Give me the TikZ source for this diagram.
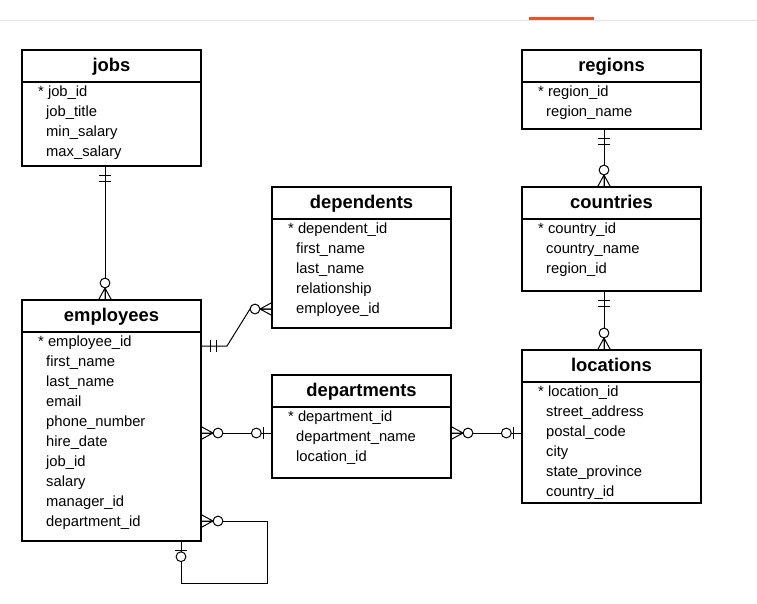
\documentclass[tikz,border=0pt]{standalone}
\usepackage{fontspec}
\setmainfont{Liberation Sans}
\usetikzlibrary{calc}
\tikzset{
  tbl/.style={draw, line width=1.1pt, minimum width=179pt, inner sep=0pt, outer sep=0pt},
  hdr/.style={font=\fontsize{18.4}{21}\selectfont\bfseries, inner sep=0pt, anchor=base},
  rowtxt/.style={font=\fontsize{14.75}{17}\selectfont, inner sep=0pt, anchor=base west},
  conn/.style={line width=1pt},
  mkline/.style={line width=1pt},
  ring/.style={line width=1pt, fill=white},
}
% table: name, left, top, height, title, key row, other rows
\newcommand\ertable[7]{%
  \node[tbl, minimum height=#4pt, anchor=north west] (#1) at (#2,#3) {};
  \draw[line width=1.1pt] ($(#1.north west)+(0,32)$) -- ($(#1.north east)+(0,32)$);
  \node[hdr] (#1-title) at ($(#1.north)+(0,21)$) {#5};
  \node[rowtxt] (#1-r1) at ($(#1.north west)+(16,46)$) {* #6};
  \foreach [count=\i from 2] \t in {#7}
    \node[rowtxt] (#1-r\i) at ($(#1.north west)+(24,26+20*\i)$) {\t};
}
% markers: point, angle pointing away from the table
\newcommand\mkone[2]{%
  \begin{scope}[shift={(#1)}, rotate=#2]
    \draw[mkline] (9,-6) -- (9,6) (15,-6) -- (15,6);
  \end{scope}}
\newcommand\mkzeromany[2]{%
  \begin{scope}[shift={(#1)}, rotate=#2]
    \draw[mkline] (0,-6.5) -- (12,0) -- (0,6.5) (0,0) -- (12,0);
    \draw[ring] (17,0) circle (4.9pt);
  \end{scope}}
\newcommand\mkzeroone[2]{%
  \begin{scope}[shift={(#1)}, rotate=#2]
    \draw[mkline] (9,-6) -- (9,6);
    \draw[ring] (15.7,0) circle (4.9pt);
  \end{scope}}
\begin{document}
\begin{tikzpicture}[x=1pt,y=-1pt]
\useasboundingbox[fill=white] (0,0) rectangle (757,603);
\draw[color={rgb,255:red,229;green,231;blue,235}, line width=1pt] (0,20.5) -- (757,20.5);
\fill[color={rgb,255:red,232;green,84;blue,40}] (529,16.5) rectangle (594,19.5);

\ertable{jobs}{22}{50}{116}{jobs}{job\_id}{job\_title,min\_salary,max\_salary}
\ertable{regions}{522}{50}{79}{regions}{region\_id}{region\_name}
\ertable{dependents}{272}{187}{141}{dependents}{dependent\_id}{first\_name,last\_name,relationship,employee\_id}
\ertable{countries}{522}{187}{104}{countries}{country\_id}{country\_name,region\_id}
\ertable{employees}{22}{300}{241}{employees}{employee\_id}{first\_name,last\_name,email,phone\_number,hire\_date,job\_id,salary,manager\_id,department\_id}
\ertable{departments}{272}{375}{103}{departments}{department\_id}{department\_name,location\_id}
\ertable{locations}{522}{350}{153}{locations}{location\_id}{street\_address,postal\_code,city,state\_province,country\_id}

% connector end points
\coordinate (jE) at ($(jobs.south west)+(83,0)$);
\coordinate (eJ) at ($(employees.north west)+(83,0)$);
\coordinate (rE) at ($(regions.south west)+(82,0)$);
\coordinate (cR) at ($(countries.north west)+(82,0)$);
\coordinate (cE) at ($(countries.south west)+(82,0)$);
\coordinate (lC) at ($(locations.north west)+(82,0)$);
\coordinate (eD) at ($(employees.north east)+(0,46)$);
\coordinate (dE) at ($(dependents.north west)+(0,122)$);
\coordinate (b1) at ($(eD)+(26,0)$);
\coordinate (b2) at ($(dE)+(-22,0)$);
\coordinate (eP) at ($(employees.north east)+(0,133)$);
\coordinate (pE) at ($(departments.north west)+(0,58)$);
\coordinate (pL) at ($(departments.north east)+(0,58)$);
\coordinate (lP) at ($(locations.north west)+(0,83)$);
\coordinate (eS) at ($(employees.north east)+(0,221)$);
\coordinate (eB) at ($(employees.south west)+(159,0)$);
\coordinate (s1) at ($(eS)+(66,0)$);
\coordinate (s3) at ($(eB)+(0,42)$);

\draw[conn] (jE) -- (eJ);
\draw[conn] (rE) -- (cR);
\draw[conn] (cE) -- (lC);
\draw[conn] (eD) -- (b1) -- (b2) -- (dE);
\draw[conn] (eP) -- (pE);
\draw[conn] (pL) -- (lP);
\draw[conn] (eS) -- (s1) |- (s3) -- (eB);

\mkone{jE}{-90}
\mkzeromany{eJ}{90}
\mkone{rE}{-90}
\mkzeromany{cR}{90}
\mkone{cE}{-90}
\mkzeromany{lC}{90}
\mkone{eD}{0}
\mkzeromany{dE}{180}
\mkzeromany{eP}{0}
\mkzeroone{pE}{180}
\mkzeromany{pL}{0}
\mkzeroone{lP}{180}
\mkzeromany{eS}{0}
\mkzeroone{eB}{-90}
\end{tikzpicture}
\end{document}
